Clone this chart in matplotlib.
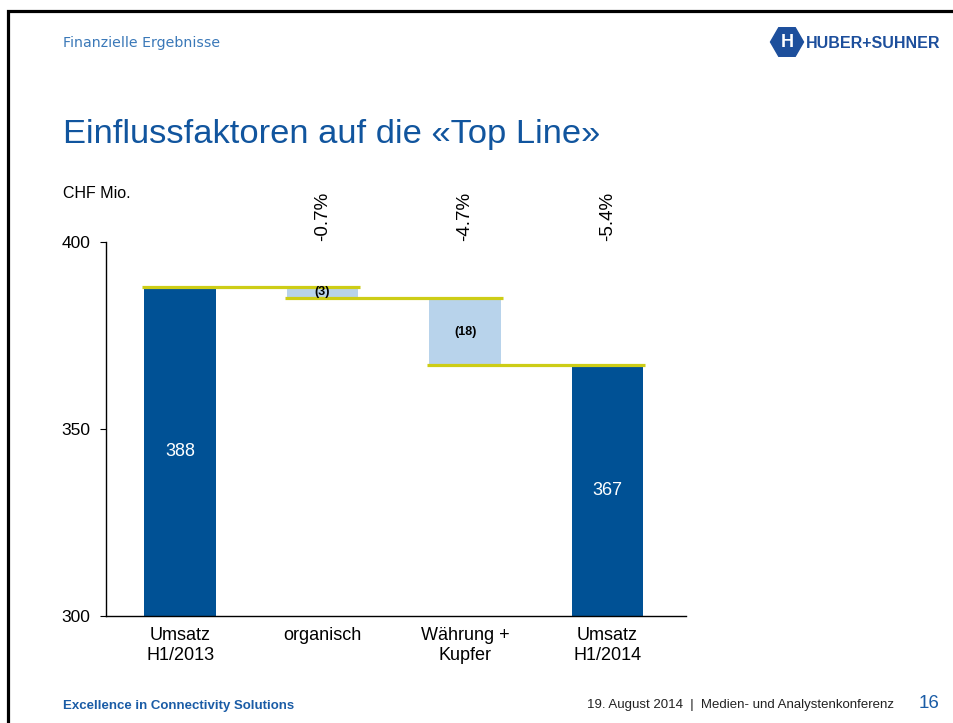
import matplotlib
matplotlib.use("Agg")
import numpy as np
import matplotlib.pyplot as plt
from matplotlib.patches import RegularPolygon

plt.rcParams['font.family'] = ['Liberation Sans', 'DejaVu Sans']

# chart data
categories = ["Umsatz\nH1/2013", "organisch", "Währung +\nKupfer", "Umsatz\nH1/2014"]
start_value = 388
changes = [-3, -18]
end_value = 367
change_labels = ["(3)", "(18)"]
pct_labels = ["-0.7%", "-4.7%", "-5.4%"]
y_ticks = [300, 350, 400]

DARK = '#005195'
LIGHT = '#b8d3eb'
YELLOW = '#cdcd16'
TITLE_BLUE = '#11559e'

W, H = 954, 723
fig = plt.figure(figsize=(W / 100, H / 100), dpi=100)

# decorations in pixel coordinates (slide frame, header, footer)
deco = fig.add_axes([0, 0, 1, 1], zorder=0)
deco.set_xlim(0, W)
deco.set_ylim(H, 0)
deco.set_axis_off()

# slide frame: left and top edge only, meeting at the corner
deco.plot([8.5, 8.5, W], [H, 10.5, 10.5], color='black', lw=2.3,
          solid_joinstyle='miter', solid_capstyle='butt')

deco.text(63, 47, "Finanzielle Ergebnisse", family='DejaVu Sans', fontsize=10.2,
          color='#3a78b8', va='baseline', ha='left')
deco.text(63, 143, "Einflussfaktoren auf die «Top Line»", fontsize=24.8,
          color=TITLE_BLUE, va='baseline', ha='left')
deco.text(63, 198, "CHF Mio.", fontsize=11.5, color='black', va='baseline', ha='left')

# logo
deco.add_patch(RegularPolygon((787, 42), numVertices=6, radius=16.5,
                              orientation=np.pi / 6, color='#1d4f9c'))
deco.text(787, 42.5, "H", fontsize=13, fontweight='bold', color='white',
          ha='center', va='center')
deco.text(806, 48, "HUBER+SUHNER", fontsize=11.5, fontweight='bold',
          color='#1d4f9c', va='baseline', ha='left')

# footer
deco.text(63, 709, "Excellence in Connectivity Solutions", fontsize=9.5,
          fontweight='bold', color='#1a5ca6', va='baseline', ha='left')
deco.text(894, 708, "19. August 2014  |  Medien- und Analystenkonferenz",
          fontsize=9.5, color='#222222', va='baseline', ha='right')
deco.text(940, 708, "16", fontsize=13.5, color='#1a5ca6', va='baseline', ha='right')

# chart
ax = fig.add_axes([106 / W, 1 - 616 / H, (686 - 106) / W, (616 - 242) / H], zorder=1)
ax.patch.set_alpha(0)
w = 0.5
x = np.arange(len(categories))
ymin, ymax = y_ticks[0], y_ticks[-1]

levels = [start_value]
for c in changes:
    levels.append(levels[-1] + c)

# totals
ax.bar(x[0], start_value - ymin, bottom=ymin, width=w, color=DARK, zorder=2)
ax.bar(x[-1], end_value - ymin, bottom=ymin, width=w, color=DARK, zorder=2)
ax.text(x[0], (start_value + ymin) / 2, str(start_value), color='white',
        fontsize=13, ha='center', va='center', zorder=4)
ax.text(x[-1], (end_value + ymin) / 2, str(end_value), color='white',
        fontsize=13, ha='center', va='center', zorder=4)

# changes
for i, c in enumerate(changes):
    pos = x[i + 1]
    lo = min(levels[i], levels[i + 1])
    ax.bar(pos, abs(c), bottom=lo, width=w, color=LIGHT, zorder=2)
    ax.text(pos, lo + abs(c) / 2, change_labels[i], fontsize=9, fontweight='bold',
            ha='center', va='center', zorder=4)

# connector lines
for i, lev in enumerate(levels):
    ax.plot([x[i] - w / 2 - 0.015, x[i + 1] + w / 2 + 0.015], [lev, lev],
            color=YELLOW, lw=2.3, solid_capstyle='butt', zorder=3)

# percentage labels above the chart
for i, p in enumerate(pct_labels):
    ax.text(x[i + 1], ymax + 0.3, p, rotation=90, fontsize=13.5,
            ha='center', va='bottom', clip_on=False)

ax.set_xlim(-0.52, 3.55)
ax.set_ylim(ymin, ymax)
ax.set_yticks(y_ticks)
ax.set_xticks(x, categories, linespacing=1.25)
for s in ['top', 'right']:
    ax.spines[s].set_visible(False)
ax.spines['left'].set_linewidth(1.0)
ax.spines['bottom'].set_linewidth(1.0)
ax.tick_params(axis='y', length=4, width=0.8, pad=7, labelsize=12.5)
ax.tick_params(axis='x', length=0, pad=8, labelsize=13)

fig.savefig('out.png', dpi=100)
